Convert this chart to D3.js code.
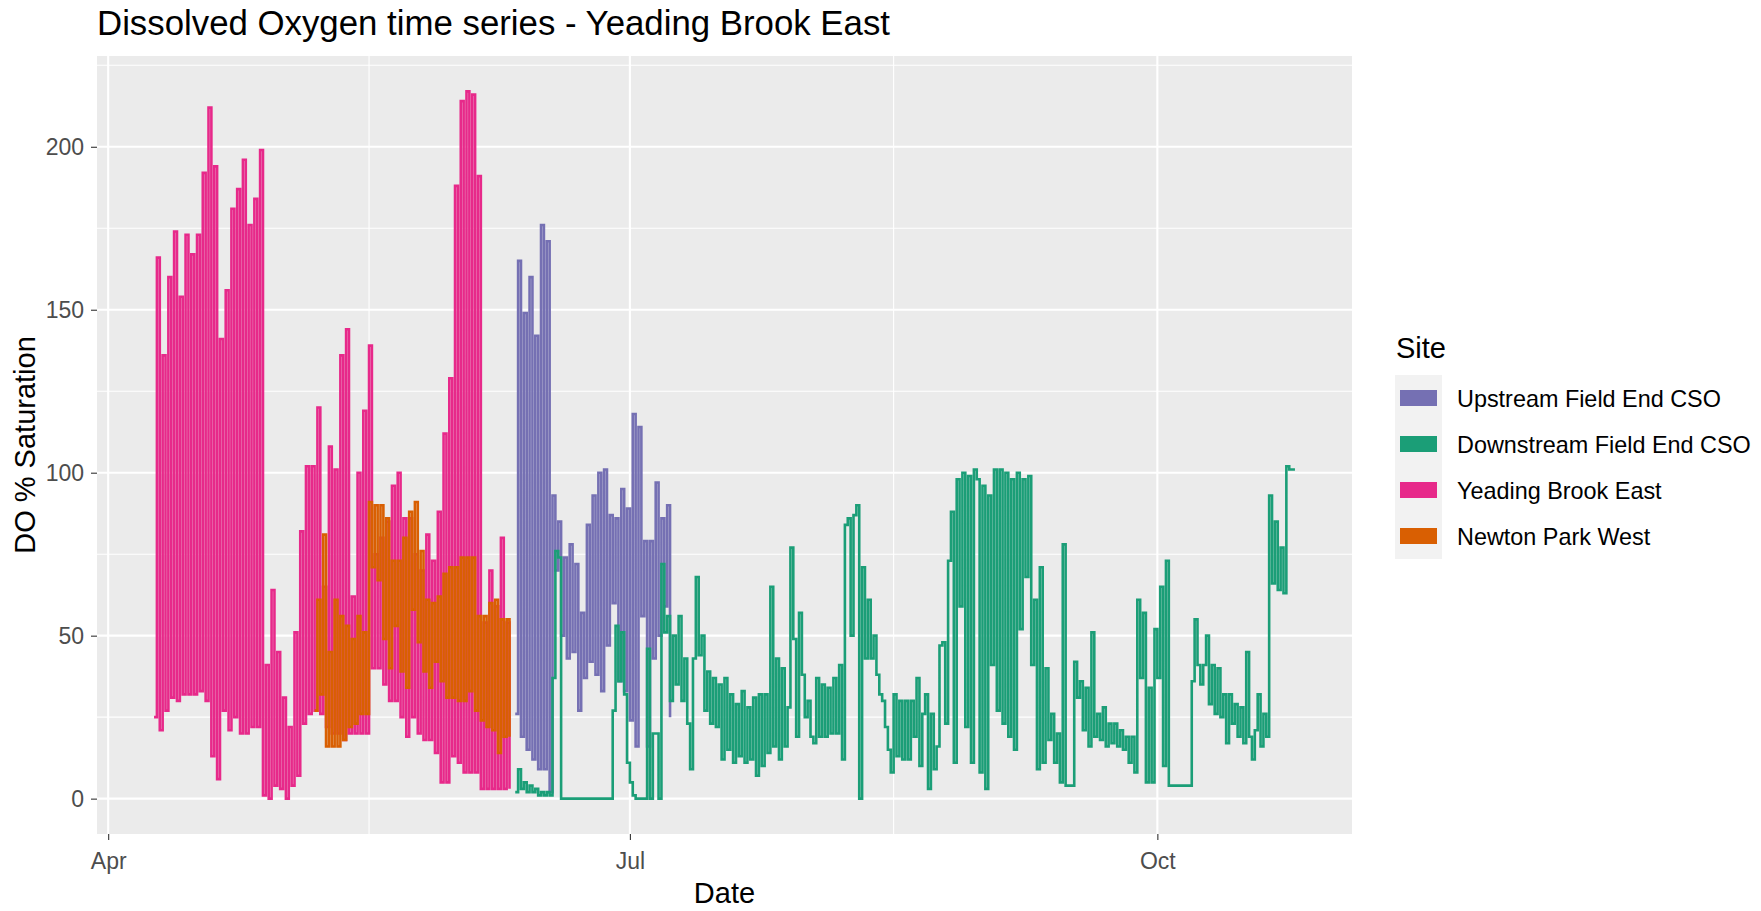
<!DOCTYPE html>
<html>
<head>
<meta charset="utf-8">
<script src="https://cdnjs.cloudflare.com/ajax/libs/d3/7.8.5/d3.min.js"></script>
<style>
  body { margin: 0; background: #ffffff; }
  svg { display: block; font-family: "Liberation Sans", Arial, sans-serif; }
</style>
</head>
<body>
<svg id="chart" width="1761" height="911"></svg>
<script>

// sites in legend (and drawing) order
var sites = ["Upstream Field End CSO", "Downstream Field End CSO", "Yeading Brook East", "Newton Park West"];
var siteColours = ["#7570B3", "#1B9E77", "#E7298A", "#D95F02"];

// DO readings, one every 12 hours from the start date (night low, day high, ...)
var stepHours = 12;

var upstreamStart = "2021-06-11";
var upstreamDO = [
	26,165, 19,149, 15,160, 12,142, 9,176, 9,171, 2,93, 70,85, 50,74, 43,78,
	45,72, 27,57, 37,84, 42,93, 38,100, 33,101, 47,87, 60,86, 36,95, 33,89,
	24,118, 16,114, 56,79, 16,79, 43,97, 50,86, 59,90, 25
];

var downstreamStart = "2021-06-11";
var downstreamDO = [
	2,9,3,5,2,4,2,3,1,2,1,2,1,37,76,74,0,0,0,0,
	0,0,0,0,0,0,0,0,0,0,0,0,0,0,27,53,36,51,32,11,
	5,1,0,0,0,0,46,0,20,20,0,72,51,56,30,50,35,56,30,43,
	23,9,43,68,44,50,27,39,23,37,22,35,12,37,15,32,11,29,13,33,
	11,28,12,31,7,32,10,32,14,65,16,43,12,40,16,28,77,49,19,57,
	38,25,30,19,17,37,19,35,19,34,20,37,20,41,12,84,86,50,87,90,
	0,71,43,61,43,50,38,32,30,22,15,8,32,13,30,12,30,12,30,19,
	37,10,26,32,3,26,9,16,47,48,23,73,88,11,98,59,100,22,99,11,
	101,98,8,96,3,93,41,101,27,101,23,100,19,98,15,100,52,98,68,99,
	41,61,9,71,11,40,18,26,11,20,5,78,4,4,4,42,31,36,21,34,
	16,51,19,26,18,28,16,23,17,23,16,21,15,19,11,19,8,61,37,57,
	5,34,5,52,37,65,10,73,4,4,4,4,4,4,4,4,36,55,41,35,
	41,50,29,41,26,40,25,32,17,32,23,29,19,28,17,45,19,12,21,32,
	16,26,19,93,66,85,64,77,63,102,101,101,101
];

var yeadingStart = "2021-04-09";
var yeadingDO = [
	25,166, 21,136, 27,160, 31,174, 30,154, 32,173, 32,167, 32,173, 33,192, 30,212,
	13,194, 6,141, 27,156, 21,181, 25,187, 20,196, 20,176, 22,184, 22,199, 1,41,
	0,64, 4,45, 3,31, 0,22, 4,51, 7,82, 23,102, 26,102, 27,120, 26,65,
	22,108, 20,101, 20,136, 18,144, 20,62, 20,100, 20,119, 20,139, 40,75, 40,80,
	35,85, 30,96, 30,100, 25,86, 19,86, 25,75, 20,70, 18,81, 18,73, 14,88,
	5,112, 5,129, 13,188, 11,214, 8,217, 8,216, 8,191, 3,54, 3,70, 3,59,
	3,80, 3,54, 3
];

var newtonStart = "2021-05-07";
var newtonDO = [
	27,61, 32,81, 16,45, 16,61, 16,56, 18,53, 22,49, 23,56, 26,51, 26,91,
	71,90, 67,90, 49,86, 40,73, 53,73, 39,80, 34,88, 58,91, 48,76, 39,61,
	34,60, 42,62, 36,69, 31,71, 31,71, 30,74, 30,74, 33,74, 27,56, 24,56,
	22,60, 21,61, 14,55, 19,55, 19
];

var xTickDates = ["2021-04-01", "2021-07-01", "2021-10-01"];
var yTicks = [0, 50, 100, 150, 200];
var yMinorTicks = [25, 75, 125, 175, 225];

var parseDay = d3.timeParse("%Y-%m-%d");

function buildSeries(start, values) {
	var t0 = parseDay(start);
	return values.map(function (v, i) {
		return { date: d3.timeHour.offset(t0, i * stepHours), value: v };
	});
}

var seriesData = [
	{ site: sites[0], points: buildSeries(upstreamStart, upstreamDO) },
	{ site: sites[1], points: buildSeries(downstreamStart, downstreamDO) },
	{ site: sites[2], points: buildSeries(yeadingStart, yeadingDO) },
	{ site: sites[3], points: buildSeries(newtonStart, newtonDO) }
];

var margin = { top: 56, right: 409, bottom: 77, left: 97 },
		width = 1761 - margin.left - margin.right,
		height = 911 - margin.top - margin.bottom;

// ggplot style 5% expansion
var allPoints = d3.merge(seriesData.map(function (s) { return s.points; }));
var xExt = d3.extent(allPoints, function (d) { return d.date; });
var yExt = d3.extent(allPoints, function (d) { return d.value; });
var xPad = (xExt[1] - xExt[0]) * 0.05, yPad = (yExt[1] - yExt[0]) * 0.05;

var x = d3.scaleTime()
		.domain([new Date(+xExt[0] - xPad), new Date(+xExt[1] + xPad)])
		.range([0, width]);
var y = d3.scaleLinear()
		.domain([yExt[0] - yPad, yExt[1] + yPad])
		.range([height, 0]);
var colour = d3.scaleOrdinal().domain(sites).range(siteColours);

var majorX = xTickDates.map(parseDay);
var minorX = d3.pairs(majorX).map(function (p) { return new Date((+p[0] + +p[1]) / 2); });

var svg = d3.select("#chart");

svg.append("text")
	.attr("x", margin.left)
	.attr("y", 35)
	.style("font-size", "34.8px")
	.style("fill", "#000")
	.text("Dissolved Oxygen time series - Yeading Brook East");

var root = svg.append("g")
		.attr("transform", "translate(" + margin.left + "," + margin.top + ")");

root.append("rect")
	.attr("width", width)
	.attr("height", height)
	.attr("fill", "#EBEBEB");

// grid
root.selectAll(".yminor").data(yMinorTicks).enter().append("line")
	.attr("x1", 0).attr("x2", width)
	.attr("y1", function (d) { return y(d); }).attr("y2", function (d) { return y(d); })
	.attr("stroke", "#fff").attr("stroke-width", 1.1);
root.selectAll(".xminor").data(minorX).enter().append("line")
	.attr("y1", 0).attr("y2", height)
	.attr("x1", function (d) { return x(d); }).attr("x2", function (d) { return x(d); })
	.attr("stroke", "#fff").attr("stroke-width", 1.1);
root.selectAll(".ymajor").data(yTicks).enter().append("line")
	.attr("x1", 0).attr("x2", width)
	.attr("y1", function (d) { return y(d); }).attr("y2", function (d) { return y(d); })
	.attr("stroke", "#fff").attr("stroke-width", 2.1);
root.selectAll(".xmajor").data(majorX).enter().append("line")
	.attr("y1", 0).attr("y2", height)
	.attr("x1", function (d) { return x(d); }).attr("x2", function (d) { return x(d); })
	.attr("stroke", "#fff").attr("stroke-width", 2.1);

// readings change fast against the day scale, so draw them as steps
var line = d3.line()
		.curve(d3.curveStepAfter)
		.x(function (d) { return x(d.date); })
		.y(function (d) { return y(d.value); });

root.selectAll(".site").data(seriesData).enter().append("path")
	.attr("class", "site")
	.attr("d", function (d) { return line(d.points); })
	.attr("fill", "none")
	.attr("stroke", function (d) { return colour(d.site); })
	.attr("stroke-width", 2.6);

// axes
var xAxis = d3.axisBottom(x).tickValues(majorX).tickFormat(d3.timeFormat("%b")).tickSize(6).tickPadding(12.5);
var yAxis = d3.axisLeft(y).tickValues(yTicks).tickSize(6).tickPadding(7);

var gx = root.append("g")
	.attr("transform", "translate(0," + height + ")")
	.call(xAxis);
var gy = root.append("g")
	.call(yAxis);

[gx, gy].forEach(function (g) {
	g.select(".domain").remove();
	g.selectAll(".tick line").attr("stroke", "#333333").attr("stroke-width", 1.1);
	g.selectAll(".tick text")
		.attr("fill", "#4D4D4D")
		.style("font-size", "23px")
		.style("font-family", "'Liberation Sans', Arial, sans-serif");
});

root.append("text")
	.attr("x", width / 2)
	.attr("y", 903 - margin.top)
	.attr("text-anchor", "middle")
	.style("font-size", "29px")
	.text("Date");

root.append("text")
	.attr("transform", "translate(" + (34.5 - margin.left) + "," + (height / 2) + ") rotate(-90)")
	.attr("text-anchor", "middle")
	.style("font-size", "29px")
	.text("DO % Saturation");

// legend
var legend = svg.append("g")
		.attr("transform", "translate(1395,375)");

legend.append("text")
	.attr("x", 1)
	.attr("y", -17)
	.style("font-size", "29px")
	.text("Site");

var rowH = 46;
legend.append("rect")
	.attr("width", 47)
	.attr("height", rowH * sites.length)
	.attr("fill", "#F2F2F2");

var rows = legend.selectAll(".key").data(sites).enter().append("g")
		.attr("transform", function (d, i) { return "translate(0," + (i * rowH) + ")"; });

rows.append("rect")
	.attr("x", 5)
	.attr("y", rowH / 2 - 8)
	.attr("width", 37)
	.attr("height", 16)
	.attr("fill", function (d) { return colour(d); });

rows.append("text")
	.attr("x", 62)
	.attr("y", rowH / 2 + 8.5)
	.style("font-size", "23.4px")
	.text(function (d) { return d; });

</script>
</body>
</html>
